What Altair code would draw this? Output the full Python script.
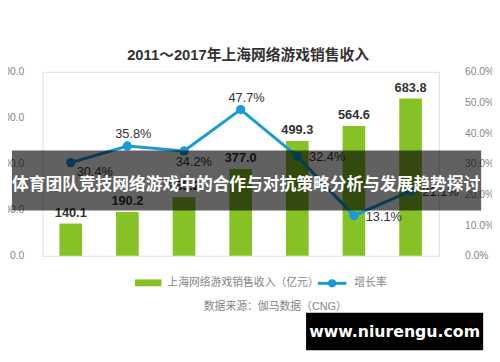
import altair as alt
import pandas as pd

years = ["2011年", "2012年", "2013年", "2014年", "2015年", "2016年", "2017年"]
revenue = [140.1, 190.2, 255.2, 377.0, 499.3, 564.6, 683.8]
growth = [30.4, 35.8, 34.2, 47.7, 32.4, 13.1, 21.1]
growth_text = ["30.4%", "35.8%", "34.2%", "47.7%", "32.4%", "13.1%", "21.1%"]
revenue_text = ["140.1", "190.2", "255.2", "377.0", "499.3", "564.6", "683.8"]

title_text = "2011～2017年上海网络游戏销售收入"
legend_bar = "上海网络游戏销售收入（亿元）"
legend_line = "增长率"
source_text = "数据来源：伽马数据（CNG）"
banner_text = "体育团队竞技网络游戏中的合作与对抗策略分析与发展趋势探讨"
watermark_text = "www.niurengu.com"

df = pd.DataFrame({"year": years, "revenue": revenue, "growth": growth,
                   "gtext": growth_text, "rtext": revenue_text})

FONT = "Liberation Sans, Noto Sans CJK SC"
GREEN = "#86c226"
BLUE = "#1a9ad6"
AXC = "#858585"

xenc = alt.X("year:N", sort=years, title=None,
             scale=alt.Scale(paddingInner=0.6, paddingOuter=0.3),
             axis=alt.Axis(labelAngle=0, ticks=False, domainColor="#d9d9d9",
                           labelColor=AXC, labelFontSize=11, labelPadding=5,
                           labelFont=FONT))
xnoax = alt.X("year:N", sort=years, title=None,
              scale=alt.Scale(paddingInner=0.6, paddingOuter=0.3), axis=None)

yrev_scale = alt.Scale(domain=[0, 800])
ygr_scale = alt.Scale(domain=[0, 60])

base = alt.Chart(df)

bars = base.mark_bar(color=GREEN).encode(
    x=xenc,
    y=alt.Y("revenue:Q", scale=yrev_scale, title=None,
            axis=alt.Axis(values=[0, 200, 400, 600, 800], format=".1f", grid=False,
                          domain=False, ticks=False, labelColor=AXC,
                          labelFontSize=10.5, labelPadding=19, labelFont=FONT)),
)

bar_text = base.mark_text(baseline="bottom", dy=-4, fontSize=13, fontWeight="bold",
                          color="#333", font=FONT).encode(
    x=xnoax,
    y=alt.Y("revenue:Q", scale=yrev_scale, axis=None),
    text="rtext:N",
)

line = base.mark_line(color=BLUE, strokeWidth=3).encode(
    x=xnoax,
    y=alt.Y("growth:Q", scale=ygr_scale, title=None,
            axis=alt.Axis(orient="right", values=[0, 10, 20, 30, 40, 50, 60],
                          labelExpr="format(datum.value, '.1f') + '%'", grid=False,
                          domain=False, ticks=False, labelColor=AXC,
                          labelFontSize=10.5, labelPadding=26, labelFont=FONT)),
)

pts = base.mark_circle(color=BLUE, size=90, opacity=1).encode(
    x=xnoax, y=alt.Y("growth:Q", scale=ygr_scale, axis=None))


def glabel(sel, **kw):
    return base.transform_filter(
        alt.FieldOneOfPredicate(field="year", oneOf=sel)
    ).mark_text(fontSize=13, color="#333", font=FONT, baseline="middle", **kw).encode(
        x=xnoax, y=alt.Y("growth:Q", scale=ygr_scale, axis=None), text="gtext:N")


lab_a = glabel(["2011年"], align="left", dx=6, dy=10)
lab_b = glabel(["2013年"], align="center", dx=10, dy=11)
lab_c = glabel(["2012年", "2014年"], align="center", dx=6, dy=-12)
lab_d = glabel(["2015年", "2016年", "2017年"], align="left", dx=12, dy=1)

one = alt.Chart(pd.DataFrame({"k": [0]}))

title = one.mark_text(fontSize=15, fontWeight="bold", color="#333", font=FONT,
                      baseline="middle", align="center").encode(
    x=alt.value(209), y=alt.value(-17), text=alt.value(title_text))

leg_rect = one.mark_rect(color=GREEN).encode(
    x=alt.value(94), x2=alt.value(121), y=alt.value(211), y2=alt.value(218))
leg_t1 = one.mark_text(fontSize=11, color=AXC, font=FONT, align="left",
                       baseline="middle").encode(
    x=alt.value(127), y=alt.value(215), text=alt.value(legend_bar))
leg_line = one.mark_rule(color=BLUE, strokeWidth=3).encode(
    x=alt.value(280), x2=alt.value(309), y=alt.value(215))
leg_dot = one.mark_circle(color=BLUE, size=70, opacity=1).encode(
    x=alt.value(294.5), y=alt.value(215))
leg_t2 = one.mark_text(fontSize=11, color=AXC, font=FONT, align="left",
                       baseline="middle").encode(
    x=alt.value(317), y=alt.value(215), text=alt.value(legend_line))
src = one.mark_text(fontSize=11, color=AXC, font=FONT, align="left",
                    baseline="middle").encode(
    x=alt.value(164), y=alt.value(239), text=alt.value(source_text))

banner = one.mark_rect(color="black", opacity=0.62).encode(
    x=alt.value(-31), x2=alt.value(446), y=alt.value(80), y2=alt.value(141))
banner_t = one.mark_text(fontSize=17, fontWeight="bold", color="white",
                         font="Noto Sans CJK SC", align="center",
                         baseline="middle").encode(
    x=alt.value(207), y=alt.value(115), text=alt.value(banner_text))

wm = one.mark_rect(color="black").encode(
    x=alt.value(268), x2=alt.value(448), y=alt.value(245), y2=alt.value(283))
wm_t = one.mark_text(fontSize=16, fontWeight="bold", color="white",
                     font="DejaVu Sans", align="center", baseline="middle").encode(
    x=alt.value(358), y=alt.value(265), text=alt.value(watermark_text))

chart = alt.layer(
    bars, bar_text, line, pts, lab_a, lab_b, lab_c, lab_d,
    title, leg_rect, leg_t1, leg_line, leg_dot, leg_t2, src,
    banner, banner_t, wm, wm_t,
).resolve_scale(y="independent").properties(
    width=403, height=187,
    autosize=alt.AutoSizeParams(type="none"),
    padding={"left": 35, "top": 62, "right": 54, "bottom": 100},
).configure_view(stroke=None).configure(background="white")

chart.save("out.html", embed_options={"renderer": "svg", "actions": False})
